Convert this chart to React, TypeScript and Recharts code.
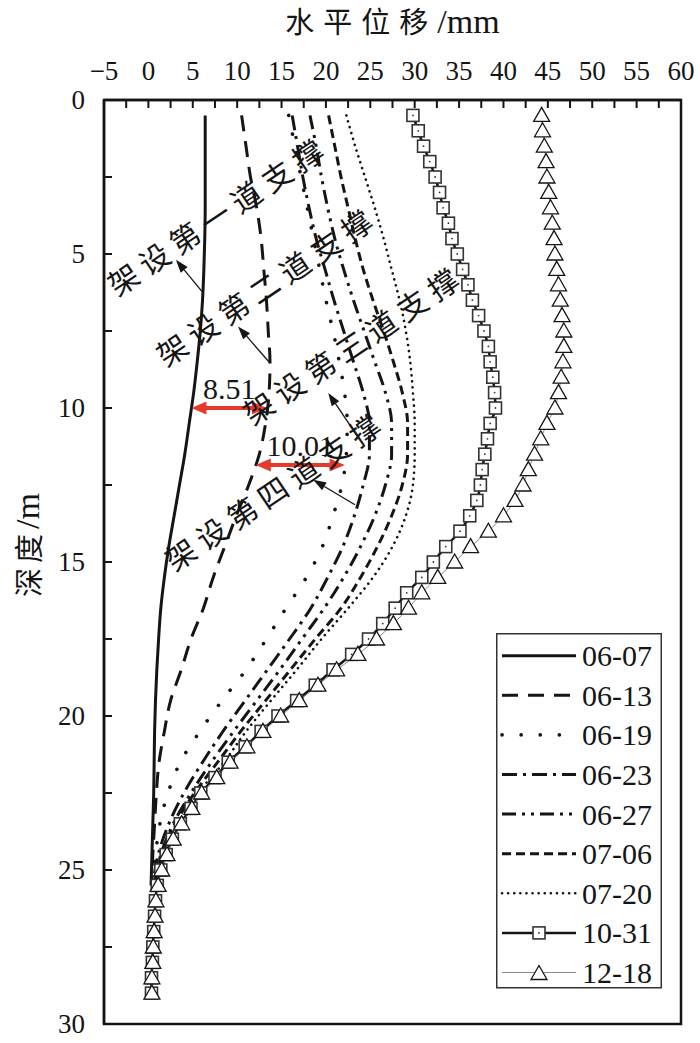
import React from 'react';
import {
  LineChart,
  Line,
  XAxis,
  YAxis,
  ReferenceArea,
  ReferenceLine,
  ReferenceDot,
  Legend,
} from 'recharts';

// ---------- data ----------
const X_TICKS = [-5, -2.5, 0, 2.5, 5, 7.5, 10, 12.5, 15, 17.5, 20, 22.5, 25, 27.5, 30, 32.5, 35, 37.5, 40, 42.5, 45, 47.5, 50, 52.5, 55, 57.5, 60];
const Y_TICKS = [0, 2.5, 5, 7.5, 10, 12.5, 15, 17.5, 20, 22.5, 25, 27.5, 30];

const DEPTH_LINE = [0.5, 1.5, 2.5, 3.5, 4.5, 5.5, 6.5, 7.5, 8.5, 9.5, 10.5, 11.5, 12.5, 13.5, 14.5, 15.5, 16.5, 17.5, 18.5, 19.5, 20.5, 21.5, 22.5, 23.5, 24.5, 25.5];

const DEPTH_MARK = [
  0.5, 1, 1.5, 2, 2.5, 3, 3.5, 4, 4.5, 5, 5.5, 6, 6.5, 7, 7.5, 8, 8.5, 9, 9.5, 10,
  10.5, 11, 11.5, 12, 12.5, 13, 13.5, 14, 14.5, 15, 15.5, 16, 16.5, 17, 17.5, 18, 18.5, 19, 19.5, 20,
  20.5, 21, 21.5, 22, 22.5, 23, 23.5, 24, 24.5, 25, 25.5, 26, 26.5, 27, 27.5, 28, 28.5, 29,
];

const S_0607 = [6.4, 6.4, 6.4, 6.4, 6.35, 6.25, 6.1, 5.85, 5.5, 5.1, 4.6, 4.1, 3.5, 2.9, 2.3, 1.8, 1.4, 1.15, 0.95, 0.8, 0.7, 0.65, 0.6, 0.5, 0.4, 0.3];
const S_0613 = [10.5, 11.0, 11.5, 12.2, 12.7, 13.0, 13.3, 13.5, 13.7, 13.6, 13.2, 12.5, 11.3, 9.9, 8.6, 7.3, 6.2, 4.8, 3.7, 2.5, 1.8, 1.2, 0.9, 0.7, 0.5, 0.35];
const S_0619 = [15.8, 16.5, 17.2, 17.9, 18.6, 19.3, 20.0, 20.8, 21.5, 22.1, 22.4, 22.3, 21.8, 20.8, 19.6, 17.8, 15.5, 13.3, 11.0, 8.3, 5.8, 3.6, 2.2, 1.3, 0.8, 0.4];
const S_0623 = [16.2, 16.8, 17.4, 18.1, 18.9, 19.9, 20.9, 22.0, 23.1, 24.2, 24.9, 24.9, 24.2, 23.2, 21.9, 20.2, 18.3, 15.9, 13.4, 10.9, 8.4, 6.1, 4.0, 2.3, 1.1, 0.5];
const S_0627 = [18.2, 18.9, 19.5, 20.2, 21.0, 22.0, 23.1, 24.3, 25.5, 26.7, 27.4, 27.4, 26.7, 25.5, 23.9, 22.0, 19.8, 17.3, 14.8, 12.2, 9.6, 7.1, 4.8, 2.8, 1.4, 0.6];
const S_0706 = [20.3, 21.0, 21.7, 22.5, 23.3, 24.2, 25.3, 26.5, 27.6, 28.6, 29.2, 29.2, 28.6, 27.4, 25.8, 23.9, 21.7, 18.8, 16.0, 13.2, 10.4, 7.8, 5.2, 3.0, 1.5, 0.7];
const S_0720 = [22.3, 23.3, 24.4, 25.5, 26.5, 27.4, 28.3, 29.0, 29.5, 29.8, 30.0, 30.0, 29.8, 29.0, 27.5, 25.3, 22.5, 19.5, 16.7, 13.8, 11.0, 8.5, 5.6, 3.3, 1.7, 0.8];

const S_1031 = [
  29.8, 30.4, 31.0, 31.7, 32.3, 32.8, 33.2, 33.8, 34.2, 34.8,
  35.4, 36.0, 36.5, 37.2, 37.8, 38.3, 38.5, 38.8, 39.0, 39.1,
  38.5, 38.2, 37.9, 37.6, 37.4, 37.0, 36.2, 35.1, 33.5, 32.1,
  30.8, 29.1, 27.8, 26.4, 24.8, 22.9, 20.8, 18.8, 16.7, 14.6,
  12.7, 10.9, 9.0, 7.5, 5.9, 4.8, 3.6, 2.7, 2.0, 1.4,
  1.0, 0.8, 0.7, 0.6, 0.5, 0.45, 0.35, 0.35,
];
const S_1218 = [
  44.3, 44.4, 44.6, 44.8, 44.9, 45.1, 45.3, 45.5, 45.7, 45.8,
  46.0, 46.2, 46.4, 46.6, 46.8, 46.8, 46.7, 46.5, 46.2, 45.8,
  44.9, 44.2, 43.5, 42.8, 42.2, 41.3, 40.0, 38.3, 36.3, 34.5,
  32.6, 30.8, 29.3, 27.6, 25.7, 23.6, 21.2, 19.1, 17.0, 14.9,
  12.9, 11.1, 9.2, 7.7, 6.0, 4.9, 3.75, 2.8, 2.1, 1.5,
  1.1, 0.85, 0.75, 0.65, 0.55, 0.5, 0.4, 0.4,
];

const SUPPORT_TEXT = ['架设第一道支撑', '架设第二道支撑', '架设第三道支撑', '架设第四道支撑'];
const DIFF_LABELS = ['8.51', '10.01'];

// ---------- annotation placement (data coordinates) ----------
const SUPPORT_POS = [
  { x: 7.8, y: 3.71 },
  { x: 13.3, y: 6.0 },
  { x: 23.05, y: 7.9 },
  { x: 14.25, y: 12.64 },
];
const SUPPORT_ARROWS = [
  { tip: { x: 3.1, y: 5.19 }, tail: { x: 6.05, y: 6.22 } },
  { tip: { x: 10.1, y: 7.35 }, tail: { x: 13.7, y: 8.54 } },
  { tip: { x: 20.26, y: 9.51 }, tail: { x: 23.5, y: 10.9 } },
  { tip: { x: 18.57, y: 12.33 }, tail: { x: 23.27, y: 13.14 } },
];
const DIFF_SEGMENTS = [
  { from: 4.85, to: 13.36, depth: 10 },
  { from: 12.1, to: 22.11, depth: 11.85 },
];

// ---------- styles ----------
const SERIF = "Liberation Serif, Tinos, 'Times New Roman', 'DejaVu Serif', serif";
const CJK = "'Noto Sans CJK SC', sans-serif";
const INK = '#151515';
const RED = '#e5392a';

const toRows = (depths: number[], vals: number[]) => vals.map((v, i) => ({ depth: depths[i], v }));

type Series = {
  name: string;
  rows: { depth: number; v: number }[];
  dash?: string;
  width: number;
  color: string;
  cap?: 'round' | 'butt';
  marker?: 'square' | 'triangle';
};

const SERIES: Series[] = [
  { name: '06-07', rows: toRows(DEPTH_LINE, S_0607), width: 3, color: INK },
  { name: '06-13', rows: toRows(DEPTH_LINE, S_0613), dash: '16 10', width: 3, color: INK },
  { name: '06-19', rows: toRows(DEPTH_LINE, S_0619), dash: '0.1 19', width: 3.6, color: INK, cap: 'round' },
  { name: '06-23', rows: toRows(DEPTH_LINE, S_0623), dash: '15 6 3 6', width: 3, color: INK },
  { name: '06-27', rows: toRows(DEPTH_LINE, S_0627), dash: '14 6 3 6 3 6', width: 3, color: INK },
  { name: '07-06', rows: toRows(DEPTH_LINE, S_0706), dash: '9 5', width: 3, color: INK },
  { name: '07-20', rows: toRows(DEPTH_LINE, S_0720), dash: '0.1 6', width: 2.6, color: INK, cap: 'round' },
  { name: '10-31', rows: toRows(DEPTH_MARK, S_1031), width: 2.5, color: INK, marker: 'square' },
  { name: '12-18', rows: toRows(DEPTH_MARK, S_1218), width: 1, color: '#8a8a8a', marker: 'triangle' },
];

const squareShape = (cx: number, cy: number, key?: string) => (
  <g key={key}>
    <rect x={cx - 6} y={cy - 6} width={12} height={12} fill="#fff" stroke="#333" strokeWidth={1.6} />
    <circle cx={cx} cy={cy} r={0.9} fill="#333" />
  </g>
);
const triangleShape = (cx: number, cy: number, key?: string) => (
  <polygon
    key={key}
    points={`${cx},${cy - 8} ${cx - 8},${cy + 6} ${cx + 8},${cy + 6}`}
    fill="#fff"
    stroke={INK}
    strokeWidth={1.3}
    strokeLinejoin="miter"
  />
);

const SquareDot = (p: any) => {
  const { cx, cy, index } = p;
  if (cx == null || cy == null) return <g key={`sq-${index}`} />;
  return squareShape(cx, cy, `sq-${index}`);
};
const TriangleDot = (p: any) => {
  const { cx, cy, index } = p;
  if (cx == null || cy == null) return <g key={`tr-${index}`} />;
  return triangleShape(cx, cy, `tr-${index}`);
};

const fmtX = (v: number) => (v % 5 === 0 ? String(v).replace('-', '\u2212') : '');
const fmtY = (v: number) => (v % 5 === 0 ? String(v) : '');

// ticks drawn inward (toward the plot), labels outside
const TICK_GAP = 20;
const TICK_LEN = 8;
const TopTick = (p: any) => {
  const { x, y, payload } = p;
  const base = y + TICK_GAP;
  return (
    <g>
      <line x1={x} y1={base} x2={x} y2={base + TICK_LEN} stroke={INK} strokeWidth={2} />
      <text x={x} y={y} textAnchor="middle" fontFamily={SERIF} fontSize={27} fill={INK}>
        {fmtX(payload.value)}
      </text>
    </g>
  );
};
const LeftTick = (p: any) => {
  const { x, y, payload } = p;
  const base = x + 19;
  return (
    <g>
      <line x1={base} y1={y} x2={base + TICK_LEN} y2={y} stroke={INK} strokeWidth={2} />
      <text x={x} y={y} dy="0.34em" textAnchor="end" fontFamily={SERIF} fontSize={27} fill={INK}>
        {fmtY(payload.value)}
      </text>
    </g>
  );
};

const XTitle = (p: any) => {
  const vb = p.viewBox || { x: 104, y: 60, width: 577, height: 40 };
  return (
    <text x={vb.x + vb.width / 2} y={vb.y - 27} textAnchor="middle" fill={INK}>
      <tspan fontFamily={CJK} fontSize={29} letterSpacing={9}>水平位移</tspan>
      <tspan fontFamily={SERIF} fontSize={34}>/mm</tspan>
    </text>
  );
};
const YTitle = (p: any) => {
  const vb = p.viewBox || { x: 44, y: 100, width: 60, height: 924 };
  const cx = vb.x - 17;
  const cy = vb.y + vb.height / 2 - 17;
  return (
    <text
      x={cx}
      y={cy}
      textAnchor="middle"
      dominantBaseline="central"
      transform={`rotate(-90 ${cx} ${cy})`}
      fill={INK}
    >
      <tspan fontFamily={CJK} fontSize={29} letterSpacing={5}>深度</tspan>
      <tspan fontFamily={SERIF} fontSize={34}>/m</tspan>
    </text>
  );
};

const supportTextShape = (label: string) => (p: any) => {
  const { cx, cy } = p;
  return (
    <text
      x={cx}
      y={cy}
      textAnchor="middle"
      dominantBaseline="central"
      transform={`rotate(-34 ${cx} ${cy})`}
      fontFamily={CJK}
      fontSize={30}
      letterSpacing={7}
      fill={INK}
    >
      {label}
    </text>
  );
};

const blackArrowShape = (p: any) => {
  const { x1, y1, x2, y2 } = p;
  const dx = x1 - x2;
  const dy = y1 - y2;
  const len = Math.sqrt(dx * dx + dy * dy) || 1;
  const ux = dx / len;
  const uy = dy / len;
  const L = 13;
  const W = 4.5;
  const bx = x1 - ux * L;
  const by = y1 - uy * L;
  return (
    <g>
      <line x1={bx} y1={by} x2={x2} y2={y2} stroke={INK} strokeWidth={1.3} />
      <polygon
        points={`${x1},${y1} ${bx - uy * W},${by + ux * W} ${bx + uy * W},${by - ux * W}`}
        fill={INK}
      />
    </g>
  );
};

const redArrowShape = (label: string) => (p: any) => {
  const { x1, y1, x2, y2 } = p;
  const L = 15;
  const W = 6.5;
  return (
    <g>
      <line x1={x1 + L - 2} y1={y1} x2={x2 - L + 2} y2={y2} stroke={RED} strokeWidth={4} />
      <polygon points={`${x1},${y1} ${x1 + L},${y1 - W} ${x1 + L},${y1 + W}`} fill={RED} />
      <polygon points={`${x2},${y2} ${x2 - L},${y2 - W} ${x2 - L},${y2 + W}`} fill={RED} />
      <text
        x={(x1 + x2) / 2}
        y={y1 - 9}
        textAnchor="middle"
        fontFamily={SERIF}
        fontSize={30}
        fill={INK}
      >
        {label}
      </text>
    </g>
  );
};

const LegendBox = () => {
  const rowH = 39.6;
  return (
    <svg width={166} height={356} style={{ display: 'block' }}>
      <rect x={0.75} y={0.75} width={164.5} height={354} fill="#fff" stroke="#333" strokeWidth={1.5} />
      {SERIES.map((s, i) => {
        const cy = 22.7 + i * rowH;
        return (
          <g key={s.name}>
            <line
              x1={6}
              y1={cy}
              x2={80}
              y2={cy}
              stroke={s.color}
              strokeWidth={s.width}
              strokeDasharray={s.dash}
              strokeLinecap={s.cap || 'butt'}
            />
            {s.marker === 'square' && squareShape(43, cy)}
            {s.marker === 'triangle' && triangleShape(43, cy + 1)}
            <text x={86} y={cy + 10.5} fontFamily={SERIF} fontSize={30} fill={INK}>
              {s.name}
            </text>
          </g>
        );
      })}
    </svg>
  );
};

export default function App() {
  return (
    <div style={{ position: 'absolute', left: 0, top: 0, width: 700, height: 1043, background: '#fff' }}>
      <LineChart
        width={700}
        height={1043}
        layout="vertical"
        margin={{ top: 60, right: 19, bottom: 19, left: 44 }}
      >
        <XAxis
          type="number"
          orientation="top"
          domain={[-5, 60]}
          ticks={X_TICKS}
          interval={0}
          height={40}
          allowDataOverflow
          tickSize={0}
          tickMargin={TICK_GAP}
          tickLine={false}
          axisLine={{ stroke: INK, strokeWidth: 2.5 }}
          tick={TopTick}
          label={{ content: XTitle }}
        />
        <YAxis
          type="number"
          dataKey="depth"
          domain={[0, 30]}
          ticks={Y_TICKS}
          interval={0}
          width={60}
          allowDataOverflow
          tickSize={0}
          tickMargin={19}
          tickLine={false}
          axisLine={{ stroke: INK, strokeWidth: 2.5 }}
          tick={LeftTick}
          label={{ content: YTitle }}
        />
        <ReferenceArea x1={-5} x2={60} y1={0} y2={30} fill="none" fillOpacity={0} stroke={INK} strokeWidth={2.5} />
        {SERIES.map((s) => (
          <Line
            key={s.name}
            name={s.name}
            data={s.rows}
            dataKey="v"
            type="monotone"
            stroke={s.color}
            strokeWidth={s.width}
            strokeDasharray={s.dash}
            strokeLinecap={s.cap || 'butt'}
            dot={s.marker === 'square' ? SquareDot : s.marker === 'triangle' ? TriangleDot : false}
            activeDot={false}
            isAnimationActive={false}
          />
        ))}
        {SUPPORT_TEXT.map((t, i) => (
          <ReferenceDot
            key={`st-${i}`}
            x={SUPPORT_POS[i].x}
            y={SUPPORT_POS[i].y}
            r={0}
            shape={supportTextShape(t)}
          />
        ))}
        {SUPPORT_ARROWS.map((a, i) => (
          <ReferenceLine
            key={`sa-${i}`}
            segment={[a.tip, a.tail]}
            shape={blackArrowShape}
          />
        ))}
        {DIFF_SEGMENTS.map((d, i) => (
          <ReferenceLine
            key={`df-${i}`}
            segment={[
              { x: d.from, y: d.depth },
              { x: d.to, y: d.depth },
            ]}
            shape={redArrowShape(DIFF_LABELS[i])}
          />
        ))}
        <Legend
          layout="horizontal"
          verticalAlign="middle"
          align="center"
          wrapperStyle={{ position: 'absolute', left: 496, top: 633, width: 166, height: 356 }}
          content={() => <LegendBox />}
        />
      </LineChart>
    </div>
  );
}
